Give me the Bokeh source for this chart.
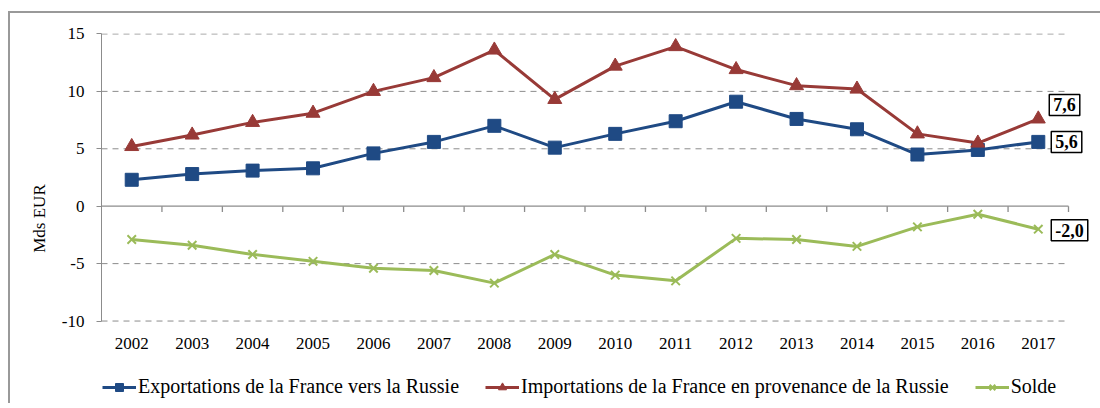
from bokeh.plotting import figure
from bokeh.models import (Range1d, Legend, LegendItem, Label, FixedTicker,
                          ColumnDataSource, CustomJSTickFormatter)
from bokeh.embed import file_html
from bokeh.resources import INLINE

years = ["2002", "2003", "2004", "2005", "2006", "2007", "2008", "2009",
         "2010", "2011", "2012", "2013", "2014", "2015", "2016", "2017"]
exports = [2.3, 2.8, 3.1, 3.3, 4.6, 5.6, 7.0, 5.1, 6.3, 7.4, 9.1, 7.6, 6.7, 4.5, 4.9, 5.6]
imports = [5.2, 6.2, 7.3, 8.1, 10.0, 11.2, 13.6, 9.3, 12.2, 13.9, 11.9, 10.5, 10.2, 6.3, 5.5, 7.6]
solde = [-2.9, -3.4, -4.2, -4.8, -5.4, -5.6, -6.7, -4.2, -6.0, -6.5, -2.8, -2.9, -3.5, -1.8, -0.7, -2.0]
y_ticks = [-10, -5, 0, 5, 10, 15]
series_names = ["Exportations de la France vers la Russie",
                "Importations de la France en provenance de la Russie",
                "Solde"]

FONT = "Liberation Serif"
BLUE = "#1F4A84"
RED = "#983A37"
GREEN = "#9BBB59"
GREY = "#8C8C8C"

n = len(years)
pos = [i + 0.5 for i in range(n)]          # category centres on a linear scale
src = ColumnDataSource(dict(x=pos, year=years, exp=exports, imp=imports, sol=solde))

# plotting area: value axis occupies 288 px for (y_ticks[0]-0.04 .. y_ticks[-1]+0.04);
# the frame continues below it to hold the year labels and the legend
FRAME_H = 370
y_top = y_ticks[-1] + 0.04
y_axis_bottom = y_ticks[0] - 0.04
px_per_unit = 288 / (y_top - y_axis_bottom)
y_start = y_top - FRAME_H / px_per_unit

p = figure(frame_width=991, frame_height=FRAME_H,
           x_range=Range1d(0, n * 991 / 967), y_range=Range1d(y_start, y_top),
           output_backend="svg", toolbar_location=None,
           min_border_left=91, min_border_right=8, min_border_top=20,
           min_border_bottom=0)
p.styles = {"margin-left": "8px", "margin-top": "11px",
            "border-left": "2px solid #999999", "border-top": "2px solid #999999"}
p.outline_line_color = None
p.background_fill_color = "white"
p.border_fill_color = "white"
p.xgrid.grid_line_color = None
p.ygrid.grid_line_color = None

# horizontal dashed grid lines over the category span
grid_vals = [t for t in y_ticks if t != 0]
p.segment(x0=[0] * len(grid_vals), x1=[n] * len(grid_vals), y0=grid_vals, y1=grid_vals,
          line_color=GREY, line_width=1, line_dash="6 5")
# zero line and tick marks between categories
p.segment(x0=[0], x1=[n], y0=[0], y1=[0], line_color=GREY, line_width=1.3)
p.segment(x0=list(range(1, n + 1)), x1=list(range(1, n + 1)),
          y0=[0] * n, y1=[-0.5] * n, line_color=GREY, line_width=1.3)

# y axis
p.yaxis.ticker = FixedTicker(ticks=y_ticks)
p.yaxis.bounds = (y_ticks[0], y_ticks[-1])
p.yaxis.formatter = CustomJSTickFormatter(code="return tick.toString()")
p.yaxis.axis_line_color = GREY
p.yaxis.axis_line_width = 1
p.yaxis.major_tick_line_color = GREY
p.yaxis.major_tick_out = 5
p.yaxis.major_tick_in = 0
p.yaxis.minor_tick_line_color = None
p.yaxis.major_label_text_font = FONT
p.yaxis.major_label_text_font_size = "17px"
p.yaxis.major_label_text_color = "black"
p.yaxis.major_label_standoff = 12
p.yaxis.axis_label = "Mds EUR"
p.yaxis.axis_label_text_font = FONT
p.yaxis.axis_label_text_font_size = "17px"
p.yaxis.axis_label_text_font_style = "normal"
p.yaxis.axis_label_text_color = "black"
p.yaxis.axis_label_standoff = 10

# x axis: year labels under the value area
p.xaxis.fixed_location = y_axis_bottom
p.xaxis.ticker = FixedTicker(ticks=pos)
p.xaxis.formatter = CustomJSTickFormatter(args=dict(years=years),
                                          code="return years[Math.floor(tick)] || ''")
p.xaxis.axis_line_color = None
p.xaxis.major_tick_line_color = None
p.xaxis.minor_tick_line_color = None
p.xaxis.major_tick_out = 0
p.xaxis.major_tick_in = 0
p.xaxis.major_label_text_font = FONT
p.xaxis.major_label_text_font_size = "17px"
p.xaxis.major_label_text_color = "black"
p.xaxis.major_label_standoff = 16

# series
r_exp_l = p.line("x", "exp", source=src, line_color=BLUE, line_width=3)
r_exp_m = p.scatter("x", "exp", source=src, marker="square", size=13,
                    fill_color=BLUE, line_color=BLUE)
r_imp_l = p.line("x", "imp", source=src, line_color=RED, line_width=3)
r_imp_m = p.scatter("x", "imp", source=src, marker="triangle", size=14,
                    fill_color=RED, line_color=RED)
r_sol_l = p.line("x", "sol", source=src, line_color=GREEN, line_width=3)
r_sol_m = p.scatter("x", "sol", source=src, marker="x", size=12,
                    line_color=GREEN, line_width=2)

# end labels
def fmt(v):
    return f"{v:.1f}".replace(".", ",")

for val, dx, dy in [(imports[-1], 11, 14), (exports[-1], 13, 0), (solde[-1], 13, -1)]:
    p.add_layout(Label(x=pos[-1], y=val, x_offset=dx, y_offset=dy, text=fmt(val),
                       text_font=FONT, text_font_size="18px", text_font_style="bold",
                       text_color="black", text_align="left", text_baseline="middle",
                       border_line_color="black", border_line_width=1.5,
                       background_fill_color="white", padding=4))

# legend, inside the lower part of the frame
legend = Legend(items=[
    LegendItem(label=series_names[0], renderers=[r_exp_l, r_exp_m]),
    LegendItem(label=series_names[1], renderers=[r_imp_l, r_imp_m]),
    LegendItem(label=series_names[2], renderers=[r_sol_l, r_sol_m]),
], orientation="horizontal", location=(1, 5), border_line_color=None,
    background_fill_alpha=0, label_text_font=FONT, label_text_font_size="20px",
    label_text_color="black", glyph_width=34, glyph_height=20, label_standoff=2,
    spacing=26, padding=0, margin=0)
p.add_layout(legend)

open("out.html", "w").write(file_html(p, INLINE))
